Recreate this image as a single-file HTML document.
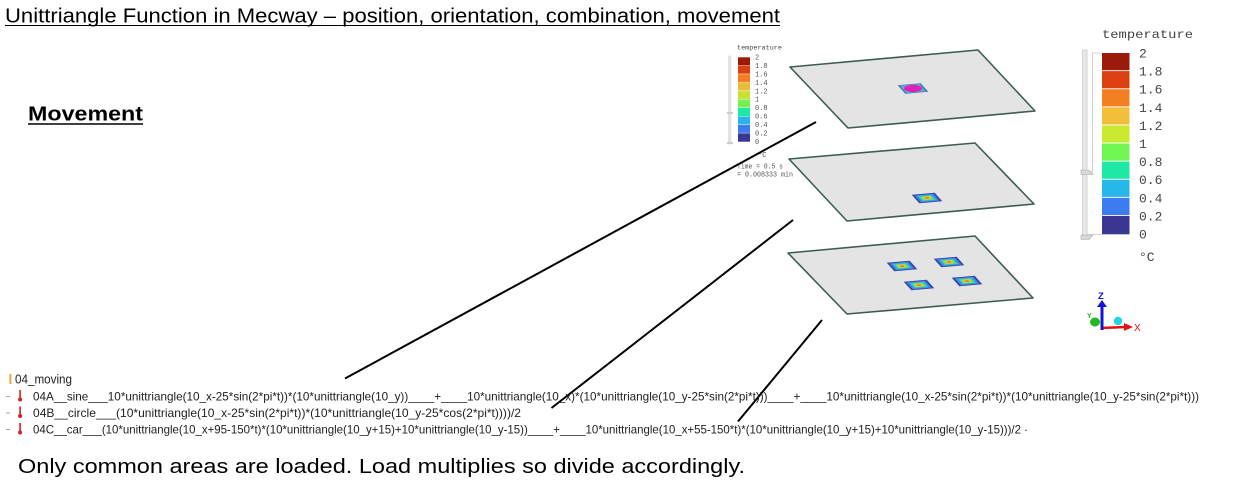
<!DOCTYPE html>
<html>
<head>
<meta charset="utf-8">
<style>
  html,body{margin:0;padding:0;background:#fff;}
  body{width:1247px;height:491px;overflow:hidden;}
  svg{display:block;}
  .sans{font-family:"Liberation Sans",sans-serif;}
  .mono{font-family:"Liberation Mono","DejaVu Sans Mono",monospace;}
</style>
</head>
<body>
<svg width="1247" height="491" viewBox="0 0 1247 491" xmlns="http://www.w3.org/2000/svg">
  <defs>
    <polygon id="sp" points="-15.3,-3.3 7.7,-5.3 15.3,3.3 -7.7,5.3"/>
    <g id="spot">
      <use href="#sp" fill="#3a47a8"/>
      <use href="#sp" fill="#3e86e6" transform="scale(0.8)"/>
      <use href="#sp" fill="#27c8d0" transform="scale(0.62)"/>
      <use href="#sp" fill="#7ae35a" transform="scale(0.45)"/>
      <use href="#sp" fill="#eec23a" transform="scale(0.3)"/>
      <use href="#sp" fill="#e8742a" transform="scale(0.16)"/>
    </g>
  </defs>

  <!-- Title -->
  <text class="sans" x="5" y="22.5" font-size="20" textLength="775" lengthAdjust="spacingAndGlyphs" fill="#000">Unittriangle Function in Mecway – position, orientation, combination, movement</text>
  <line x1="5" y1="25.5" x2="780" y2="25.5" stroke="#000" stroke-width="1"/>

  <!-- Movement -->
  <text class="sans" x="28" y="120.5" font-size="20" font-weight="bold" textLength="115" lengthAdjust="spacingAndGlyphs" fill="#000">Movement</text>
  <line x1="28" y1="124" x2="143" y2="124" stroke="#000" stroke-width="1.6"/>

  <!-- Small legend -->
  <text class="mono" x="737" y="49.5" font-size="6.5" textLength="45" lengthAdjust="spacingAndGlyphs" fill="#444">temperature</text>
  <rect x="728.5" y="56" width="2.5" height="88" fill="#e6e6e6" stroke="#cfcfcf" stroke-width="0.5"/>
  <rect x="727" y="112" width="6" height="2" fill="#ccc"/>
  <rect x="727" y="142" width="6" height="2" fill="#ccc"/>
  <g>
    <rect x="738" y="57.3" width="12" height="8" fill="#9b1a0a"/>
    <rect x="738" y="65.7" width="12" height="8" fill="#dd4010"/>
    <rect x="738" y="74.2" width="12" height="8" fill="#f37f22"/>
    <rect x="738" y="82.6" width="12" height="8" fill="#e9bd3a"/>
    <rect x="738" y="91.1" width="12" height="8" fill="#c9e231"/>
    <rect x="738" y="99.5" width="12" height="8" fill="#72f054"/>
    <rect x="738" y="108" width="12" height="8" fill="#1ee8a4"/>
    <rect x="738" y="116.4" width="12" height="8" fill="#26b7e8"/>
    <rect x="738" y="124.9" width="12" height="8" fill="#3d7bf0"/>
    <rect x="738" y="133.3" width="12" height="8.4" fill="#3a3694"/>
  </g>
  <g class="mono" font-size="7" fill="#555">
    <text x="755" y="59.5">2</text>
    <text x="755" y="68">1.8</text>
    <text x="755" y="76.4">1.6</text>
    <text x="755" y="84.9">1.4</text>
    <text x="755" y="93.3">1.2</text>
    <text x="755" y="101.7">1</text>
    <text x="755" y="110.2">0.8</text>
    <text x="755" y="118.6">0.6</text>
    <text x="755" y="127.1">0.4</text>
    <text x="755" y="135.5">0.2</text>
    <text x="755" y="144">0</text>
    <text x="758" y="157">°C</text>
    <text x="737" y="168.5" textLength="46" lengthAdjust="spacingAndGlyphs">Time = 0.5 s</text>
    <text x="737" y="176.5" textLength="56" lengthAdjust="spacingAndGlyphs">= 0.008333 min</text>
  </g>

  <!-- Plates -->
  <polygon points="790,67 978,50 1035,111 848,128" fill="#e3e4e3" stroke="#3e5d4e" stroke-width="1.6" stroke-linejoin="round"/>
  <polygon points="789,159 975,143 1034,204 847,221" fill="#e3e4e3" stroke="#3e5d4e" stroke-width="1.6" stroke-linejoin="round"/>
  <polygon points="788,253 975,236 1033,298 847,314" fill="#e3e4e3" stroke="#3e5d4e" stroke-width="1.6" stroke-linejoin="round"/>

  <!-- Top plate spot (magenta) -->
  <g transform="translate(913,88.5)">
    <use href="#sp" fill="#4a6cc4"/>
    <use href="#sp" fill="#3fbfa8" transform="scale(0.86)"/>
    <use href="#sp" fill="#7a9ae8" transform="scale(0.74)"/>
    <ellipse cx="0" cy="0" rx="9" ry="3.6" fill="#e020b8"/>
  </g>
  <!-- Middle plate spot -->
  <use href="#spot" transform="translate(927,198)"/>
  <!-- Bottom plate spots -->
  <use href="#spot" transform="translate(902,266)"/>
  <use href="#spot" transform="translate(949,262)"/>
  <use href="#spot" transform="translate(919,285)"/>
  <use href="#spot" transform="translate(967,281)"/>

  <!-- Big legend -->
  <text class="mono" x="1102" y="38" font-size="12" textLength="91" lengthAdjust="spacingAndGlyphs" fill="#444">temperature</text>
  <rect x="1082.5" y="50" width="4.5" height="188" fill="#e8e8e8" stroke="#cccccc" stroke-width="0.8"/>
  <polyline points="1102,53 1092.5,53 1092.5,172 1082,172" fill="none" stroke="#c8c8c8" stroke-width="0.8"/>
  <polygon points="1081,170 1089,170 1093,174.5 1081,174.5" fill="#d8d8d8" stroke="#aaa" stroke-width="0.6"/>
  <polygon points="1081,235 1093,235 1089,239.5 1081,239.5" fill="#d8d8d8" stroke="#aaa" stroke-width="0.6"/>
  <line x1="1087" y1="234.5" x2="1102" y2="234.5" stroke="#c8c8c8" stroke-width="0.8"/>
  <g>
    <rect x="1102" y="53" width="27.5" height="17.2" fill="#9b1a0a"/>
    <rect x="1102" y="71.1" width="27.5" height="17.2" fill="#dd4010"/>
    <rect x="1102" y="89.2" width="27.5" height="17.2" fill="#f37f22"/>
    <rect x="1102" y="107.3" width="27.5" height="17.2" fill="#f2bf3a"/>
    <rect x="1102" y="125.4" width="27.5" height="17.2" fill="#c9ea31"/>
    <rect x="1102" y="143.5" width="27.5" height="17.2" fill="#72f654"/>
    <rect x="1102" y="161.6" width="27.5" height="17.2" fill="#1ee8a4"/>
    <rect x="1102" y="179.7" width="27.5" height="17.2" fill="#26b7e8"/>
    <rect x="1102" y="197.8" width="27.5" height="17.2" fill="#3d7bf0"/>
    <rect x="1102" y="215.9" width="27.5" height="18.4" fill="#3a3694"/>
  </g>
  <g class="mono" font-size="13" fill="#444">
    <text x="1139" y="57.5">2</text>
    <text x="1139" y="75.6">1.8</text>
    <text x="1139" y="93.7">1.6</text>
    <text x="1139" y="111.8">1.4</text>
    <text x="1139" y="129.9">1.2</text>
    <text x="1139" y="148">1</text>
    <text x="1139" y="166.1">0.8</text>
    <text x="1139" y="184.2">0.6</text>
    <text x="1139" y="202.3">0.4</text>
    <text x="1139" y="220.4">0.2</text>
    <text x="1139" y="238.5">0</text>
    <text x="1139" y="261">°C</text>
  </g>

  <!-- Axis triad -->
  <ellipse cx="1095" cy="322" rx="5" ry="4.5" fill="#22b822"/>
  <text class="sans" x="1087" y="318" font-size="7" font-weight="bold" fill="#22b822">Y</text>
  <circle cx="1118" cy="321" r="4.2" fill="#22d4e4"/>
  <line x1="1101" y1="328" x2="1126" y2="327" stroke="#e81010" stroke-width="2.6"/>
  <polygon points="1124,323 1133,327 1124,331" fill="#e81010"/>
  <text class="sans" x="1134" y="331" font-size="10" fill="#e81010">X</text>
  <line x1="1102" y1="330" x2="1102" y2="306" stroke="#1414d8" stroke-width="3"/>
  <polygon points="1097,307 1107,307 1102,300" fill="#1414d8"/>
  <text class="sans" x="1098" y="299" font-size="9.5" font-weight="bold" fill="#1414d8">Z</text>

  <!-- Connector lines -->
  <line x1="345" y1="378.5" x2="816" y2="122" stroke="#000" stroke-width="2"/>
  <line x1="551.5" y1="408" x2="793" y2="220" stroke="#000" stroke-width="2"/>
  <line x1="738" y1="421.5" x2="822" y2="320" stroke="#000" stroke-width="2"/>

  <!-- Tree -->
  <rect x="9.5" y="374" width="1.8" height="10" fill="#f0a030"/>
  <text class="sans" x="15" y="383.5" font-size="12.5" fill="#222" textLength="57" lengthAdjust="spacingAndGlyphs">04_moving</text>

  <g fill="#aaa">
    <rect x="6" y="396" width="4" height="1"/>
    <rect x="6" y="412.5" width="4" height="1"/>
    <rect x="6" y="429" width="4" height="1"/>
  </g>
  <g fill="#d42020">
    <rect x="19.3" y="390" width="1.6" height="8"/>
    <circle cx="20.1" cy="399.5" r="2"/>
    <rect x="19.3" y="406.5" width="1.6" height="8"/>
    <circle cx="20.1" cy="416" r="2"/>
    <rect x="19.3" y="423" width="1.6" height="8"/>
    <circle cx="20.1" cy="432.5" r="2"/>
  </g>
  <g class="sans" font-size="12" fill="#222">
    <text x="33" y="400.5" textLength="1166" lengthAdjust="spacingAndGlyphs">04A__sine___10*unittriangle(10_x-25*sin(2*pi*t))*(10*unittriangle(10_y))____+____10*unittriangle(10_x)*(10*unittriangle(10_y-25*sin(2*pi*t)))____+____10*unittriangle(10_x-25*sin(2*pi*t))*(10*unittriangle(10_y-25*sin(2*pi*t)))</text>
    <text x="33" y="417" textLength="488" lengthAdjust="spacingAndGlyphs">04B__circle___(10*unittriangle(10_x-25*sin(2*pi*t))*(10*unittriangle(10_y-25*cos(2*pi*t))))/2</text>
    <text x="33" y="433.5" textLength="995" lengthAdjust="spacingAndGlyphs">04C__car___(10*unittriangle(10_x+95-150*t)*(10*unittriangle(10_y+15)+10*unittriangle(10_y-15))____+____10*unittriangle(10_x+55-150*t)*(10*unittriangle(10_y+15)+10*unittriangle(10_y-15)))/2 ·</text>
  </g>

  <!-- Bottom note -->
  <text class="sans" x="18" y="473" font-size="20" fill="#000" textLength="727" lengthAdjust="spacingAndGlyphs">Only common areas are loaded. Load multiplies so divide accordingly.</text>
</svg>
</body>
</html>
